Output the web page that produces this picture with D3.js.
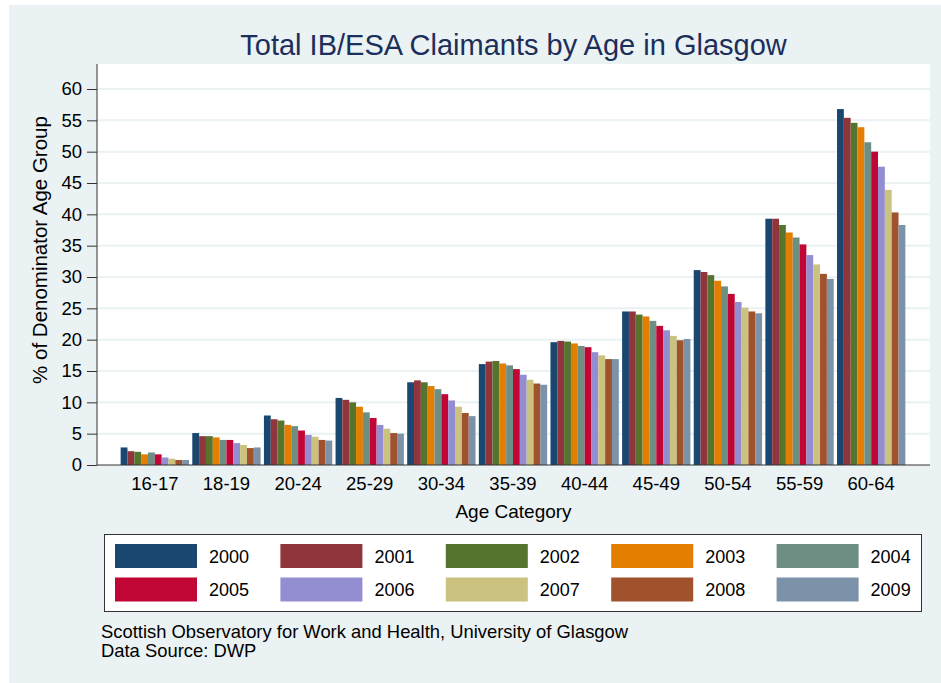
<!DOCTYPE html>
<html>
<head>
<meta charset="utf-8">
<script src="https://cdn.jsdelivr.net/npm/d3@7"></script>
<style>
  body { margin: 0; background: #fff; }
  svg { display: block; font-family: "Liberation Sans", Arial, sans-serif; }
</style>
</head>
<body>
<div id="chart"></div>
<script>
// age categories on the x axis
var ageGroups = ["16-17", "18-19", "20-24", "25-29", "30-34", "35-39", "40-44", "45-49", "50-54", "55-59", "60-64"];
var years = ["2000", "2001", "2002", "2003", "2004", "2005", "2006", "2007", "2008", "2009"];
var yTicks = [0, 5, 10, 15, 20, 25, 30, 35, 40, 45, 50, 55, 60];

// % of denominator age group, one array per year (in ageGroups order)
var y2000 = [2.8, 5.1, 7.9, 10.7, 13.2, 16.1, 19.6, 24.5, 31.1, 39.3, 56.8];
var y2001 = [2.2, 4.6, 7.3, 10.4, 13.5, 16.5, 19.8, 24.5, 30.8, 39.3, 55.4];
var y2002 = [2.1, 4.6, 7.1, 10.0, 13.2, 16.6, 19.7, 24.0, 30.3, 38.3, 54.6];
var y2003 = [1.7, 4.4, 6.4, 9.3, 12.6, 16.2, 19.4, 23.7, 29.4, 37.1, 53.9];
var y2004 = [2.0, 4.0, 6.2, 8.4, 12.1, 15.9, 19.0, 23.0, 28.5, 36.3, 51.5];
var y2005 = [1.7, 4.0, 5.5, 7.5, 11.3, 15.3, 18.8, 22.2, 27.3, 35.2, 50.0];
var y2006 = [1.2, 3.5, 4.8, 6.4, 10.3, 14.4, 18.0, 21.5, 26.0, 33.5, 47.6];
var y2007 = [1.0, 3.2, 4.5, 5.8, 9.3, 13.6, 17.5, 20.6, 25.1, 32.0, 43.9];
var y2008 = [0.8, 2.7, 4.0, 5.1, 8.3, 13.0, 16.9, 19.9, 24.5, 30.5, 40.3];
var y2009 = [0.8, 2.8, 3.9, 5.0, 7.8, 12.8, 16.9, 20.1, 24.2, 29.7, 38.3];

var series = [y2000, y2001, y2002, y2003, y2004, y2005, y2006, y2007, y2008, y2009];
var colors = ["#1a476f", "#90353b", "#55752f", "#e37e00", "#6e8e84",
              "#c10534", "#938dd2", "#cac27e", "#a0522d", "#7b92a8"];

var width = 941, height = 683;
var plot = {left: 97, right: 930, top: 64, bottom: 465};
var bg = "#eaf2f3";

var svg = d3.select("#chart").append("svg")
    .attr("width", width)
    .attr("height", height);

// outer panel
svg.append("rect")
    .attr("x", 9).attr("y", 5)
    .attr("width", width - 9).attr("height", height - 5)
    .attr("fill", bg);

// plot region
svg.append("rect")
    .attr("x", plot.left).attr("y", plot.top)
    .attr("width", plot.right - plot.left).attr("height", plot.bottom - plot.top)
    .attr("fill", "#fff");

var x0 = d3.scaleBand()
    .domain(ageGroups)
    .range([plot.left + 22, plot.right - 23])
    .paddingInner(0.046)
    .paddingOuter(0.023);

var x1 = d3.scaleBand()
    .domain(years)
    .range([0, x0.bandwidth()]);

var y = d3.scaleLinear()
    .domain([0, 60])
    .range([plot.bottom, 89]);

// gridlines
svg.append("g")
    .selectAll("line")
    .data(yTicks.filter(function(d) { return d > 0; }))
    .enter().append("line")
    .attr("x1", plot.left).attr("x2", plot.right)
    .attr("y1", function(d) { return y(d); })
    .attr("y2", function(d) { return y(d); })
    .attr("stroke", bg)
    .attr("stroke-width", 2);

// bars
var groups = svg.append("g")
    .selectAll("g")
    .data(series)
    .enter().append("g")
    .attr("fill", function(d, i) { return colors[i]; });

groups.selectAll("rect")
    .data(function(d, i) {
      return d.map(function(v, j) { return {year: years[i], age: ageGroups[j], value: v}; });
    })
    .enter().append("rect")
    .attr("x", function(d) { return x0(d.age) + x1(d.year); })
    .attr("width", x1.bandwidth())
    .attr("y", function(d) { return y(d.value); })
    .attr("height", function(d) { return y(0) - y(d.value); });

// y axis
var yAxis = svg.append("g")
    .attr("transform", "translate(" + plot.left + ",0)")
    .call(d3.axisLeft(y).tickValues(yTicks).tickSize(10).tickPadding(5));
yAxis.select(".domain").attr("d", "M0," + plot.top + "V" + plot.bottom).attr("stroke", "#333");
yAxis.selectAll(".tick line").attr("stroke", "#333");
yAxis.selectAll("text").attr("font-size", 18.5).attr("fill", "#000")
    .attr("font-family", "Liberation Sans, Arial, sans-serif");

// x axis
var xAxis = svg.append("g")
    .attr("transform", "translate(0," + plot.bottom + ")")
    .call(d3.axisBottom(x0).tickSize(0).tickPadding(12));
xAxis.select(".domain").attr("d", "M" + plot.left + ",0H" + plot.right).attr("stroke", "#333");
xAxis.selectAll("text").attr("font-size", 18.5).attr("fill", "#000")
    .attr("font-family", "Liberation Sans, Arial, sans-serif");

// titles
svg.append("text")
    .attr("x", (plot.left + plot.right) / 2)
    .attr("y", 55)
    .attr("text-anchor", "middle")
    .attr("font-size", 29)
    .attr("fill", "#1c2e5a")
    .text("Total IB/ESA Claimants by Age in Glasgow");

svg.append("text")
    .attr("x", (plot.left + plot.right) / 2)
    .attr("y", 518)
    .attr("text-anchor", "middle")
    .attr("font-size", 19)
    .text("Age Category");

svg.append("text")
    .attr("transform", "translate(47,250) rotate(-90)")
    .attr("text-anchor", "middle")
    .attr("font-size", 20.5)
    .text("% of Denominator Age Group");

// legend
var legend = svg.append("g");
legend.append("rect")
    .attr("x", 104.5).attr("y", 534.5)
    .attr("width", 817).attr("height", 77)
    .attr("fill", "#fff")
    .attr("stroke", "#333");

var items = legend.selectAll("g")
    .data(years)
    .enter().append("g")
    .attr("transform", function(d, i) {
      return "translate(" + (115 + (i % 5) * 165.4) + "," + (544 + Math.floor(i / 5) * 33.5) + ")";
    });
items.append("rect")
    .attr("width", 82).attr("height", 24)
    .attr("fill", function(d, i) { return colors[i]; });
items.append("text")
    .attr("x", 94).attr("y", 18.5)
    .attr("font-size", 18)
    .text(function(d) { return d; });

// note
var note = svg.append("text")
    .attr("x", 101)
    .attr("font-size", 18.4);
note.append("tspan").attr("x", 101).attr("y", 638)
    .text("Scottish Observatory for Work and Health, University of Glasgow");
note.append("tspan").attr("x", 101).attr("y", 657)
    .text("Data Source: DWP");
</script>
</body>
</html>
